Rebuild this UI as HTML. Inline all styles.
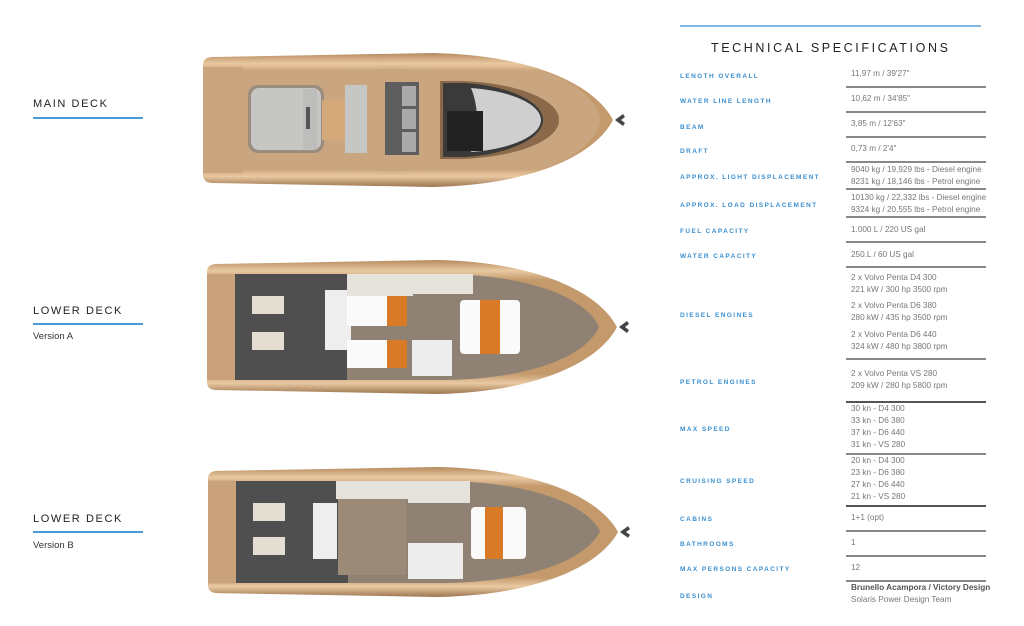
<!DOCTYPE html>
<html><head><meta charset="utf-8">
<style>
*{margin:0;padding:0;box-sizing:border-box}
body{width:1024px;height:626px;background:#fff;position:relative;overflow:hidden;font-family:"Liberation Sans",sans-serif}
.a{position:absolute;white-space:nowrap}
.dl{font-size:11px;letter-spacing:1.6px;color:#222}
.ul{height:1.5px;background:#4a9ad8;width:110px}
.ver{font-size:9.5px;color:#333}
.lb{font-size:6.5px;font-weight:bold;letter-spacing:1.4px;color:#3a8fd0;left:680px}
.v{font-size:8.2px;color:#777;left:851px;line-height:12px}
.sep{position:absolute;left:846px;width:140px;height:1.5px;background:#888}
</style></head><body>
<svg class="a" style="left:0;top:0" width="1024" height="626">
<defs>
<linearGradient id="hull" x1="0" y1="0" x2="0" y2="1">
<stop offset="0" stop-color="#b58a5e"/><stop offset="0.08" stop-color="#e9c9a2"/><stop offset="0.15" stop-color="#c49a6c"/>
<stop offset="0.85" stop-color="#c49a6c"/><stop offset="0.92" stop-color="#e9c9a2"/><stop offset="1" stop-color="#9c7550"/></linearGradient>
<g id="boat">
<path d="M0,12 Q0,4 10,4 L230,0 C330,2 392,32 410,67 C392,102 330,132 230,134 L10,130 Q0,130 0,122 Z" fill="url(#hull)"/>
<path d="M412,67 l8,-6 l2,3 l-4,3 l4,3 l-2,3 z" fill="#444"/>
<rect x="0" y="14" width="28" height="106" fill="#c9a27c"/>
</g>
</defs>
<!-- main deck -->
<g transform="translate(203,53)">
<use href="#boat"/>
<path d="M10,18 L190,16 L340,18 C375,30 395,50 398,67 C395,84 375,104 340,116 L190,118 L10,116 Z" fill="#caa680"/>
<rect x="0" y="14" width="40" height="106" fill="#c9a47f"/>
<rect x="45" y="32" width="76" height="68" rx="10" fill="#9b8d7e"/>
<rect x="48" y="35" width="70" height="62" rx="8" fill="#c6c6c4"/>
<rect x="100" y="36" width="14" height="60" fill="#bdbdbb"/><rect x="103" y="54" width="4" height="22" fill="#555"/>
<rect x="119" y="47" width="23" height="40" fill="#d4a97a"/>
<rect x="142" y="32" width="22" height="68" fill="#c6c6c4"/>
<rect x="182" y="29" width="34" height="73" fill="#5e5e5e"/>
<rect x="199" y="33" width="14" height="20" fill="#aaa"/><rect x="199" y="56" width="14" height="20" fill="#aaa"/><rect x="199" y="79" width="14" height="20" fill="#aaa"/>
<path d="M237,28 L260,28 C310,30 356,45 356,67 C356,89 310,104 260,106 L237,106 Z" fill="#8a6a4a"/>
<path d="M240,30 L262,30 C300,32 340,47 340,67 C340,87 300,102 262,104 L240,104 Z" fill="#3a3a3a"/>
<path d="M268,35 C310,38 338,52 338,67 C338,82 310,96 268,99 C276,80 276,54 268,35Z" fill="#cfcfcf"/>
<rect x="244" y="58" width="36" height="40" fill="#222"/>
</g>
<!-- lower A -->
<g transform="translate(207,260)">
<use href="#boat"/>
<path d="M28,14 L240,14 C330,16 380,40 392,67 C380,94 330,118 240,120 L28,120 Z" fill="#8f8275"/>
<rect x="28" y="14" width="112" height="106" fill="#4f4f50"/>
<rect x="45" y="36" width="32" height="18" fill="#e4ded2"/><rect x="45" y="72" width="32" height="18" fill="#e4ded2"/>
<rect x="118" y="30" width="26" height="60" fill="#eee"/>
<rect x="140" y="14" width="66" height="22" fill="#e6e2dc"/>
<rect x="140" y="36" width="60" height="30" fill="#fafafa"/><rect x="180" y="36" width="20" height="30" fill="#d97a26"/>
<rect x="140" y="80" width="60" height="28" fill="#fafafa"/><rect x="180" y="80" width="20" height="28" fill="#d97a26"/>
<rect x="206" y="14" width="60" height="20" fill="#e6e2dc"/>
<rect x="205" y="80" width="40" height="36" fill="#ededed"/>
<rect x="253" y="40" width="60" height="54" rx="4" fill="#fafafa"/><rect x="273" y="40" width="20" height="54" fill="#d97a26"/>
<rect x="0" y="14" width="28" height="106" fill="#c9a27c"/>
</g>
<!-- lower B -->
<g transform="translate(208,467)">
<use href="#boat" transform="scale(1,0.97)"/>
<path d="M28,14 L240,14 C330,16 380,40 392,64 C380,90 330,114 240,116 L28,116 Z" fill="#8f8275"/>
<rect x="28" y="14" width="112" height="102" fill="#4f4f50"/>
<rect x="45" y="36" width="32" height="18" fill="#e4ded2"/><rect x="45" y="70" width="32" height="18" fill="#e4ded2"/>
<rect x="105" y="36" width="24" height="56" fill="#eee"/>
<rect x="128" y="14" width="72" height="18" fill="#e6e2dc"/>
<rect x="130" y="32" width="68" height="76" fill="#9c8a78"/>
<rect x="200" y="14" width="62" height="22" fill="#e6e2dc"/>
<rect x="200" y="76" width="55" height="36" fill="#ededed"/>
<rect x="263" y="40" width="55" height="52" rx="4" fill="#fafafa"/><rect x="277" y="40" width="18" height="52" fill="#d97a26"/>
<rect x="0" y="14" width="28" height="98" fill="#c9a27c"/>
</g>
</svg>

<div class="a dl" style="left:33px;top:98px">MAIN DECK</div><div class="a ul" style="left:33px;top:117px"></div>
<div class="a dl" style="left:33px;top:305px">LOWER DECK</div><div class="a ul" style="left:33px;top:323px"></div>
<div class="a ver" style="left:33px;top:331px">Version A</div>
<div class="a dl" style="left:33px;top:513px">LOWER DECK</div><div class="a ul" style="left:33px;top:531px"></div>
<div class="a ver" style="left:33px;top:540px">Version B</div>

<div class="a" style="left:680px;top:25px;width:301px;height:2px;background:#7fb7e2"></div>
<div class="a" style="left:711px;top:41px;font-size:12.5px;letter-spacing:2.6px;color:#222">TECHNICAL SPECIFICATIONS</div>

<div class="a lb" style="top:73px">LENGTH OVERALL</div><div class="a v" style="top:68px">11,97 m / 39'27"</div><div class="sep" style="top:86px"></div>
<div class="a lb" style="top:98px">WATER LINE LENGTH</div><div class="a v" style="top:93px">10,62 m / 34'85"</div><div class="sep" style="top:111px"></div>
<div class="a lb" style="top:124px">BEAM</div><div class="a v" style="top:118px">3,85 m / 12'63"</div><div class="sep" style="top:136px"></div>
<div class="a lb" style="top:148px">DRAFT</div><div class="a v" style="top:143px">0,73 m / 2'4"</div><div class="sep" style="top:161px"></div>
<div class="a lb" style="top:174px">APPROX. LIGHT DISPLACEMENT</div><div class="a v" style="top:164px">9040 kg / 19,929 lbs - Diesel engine<br>8231 kg / 18,146 lbs - Petrol engine</div><div class="sep" style="top:188px"></div>
<div class="a lb" style="top:202px">APPROX. LOAD DISPLACEMENT</div><div class="a v" style="top:192px">10130 kg / 22,332 lbs - Diesel engine<br>9324 kg / 20,555 lbs - Petrol engine</div><div class="sep" style="top:216px"></div>
<div class="a lb" style="top:228px">FUEL CAPACITY</div><div class="a v" style="top:224px">1.000 L / 220 US gal</div><div class="sep" style="top:241px"></div>
<div class="a lb" style="top:253px">WATER CAPACITY</div><div class="a v" style="top:249px">250.L / 60 US gal</div><div class="sep" style="top:266px"></div>
<div class="a lb" style="top:312px">DIESEL ENGINES</div><div class="a v" style="top:272px">2 x Volvo Penta D4 300<br>221 kW / 300 hp 3500 rpm</div>
<div class="a v" style="top:300px">2 x Volvo Penta D6 380<br>280 kW / 435 hp 3500 rpm</div>
<div class="a v" style="top:329px">2 x Volvo Penta D6 440<br>324 kW / 480 hp 3800 rpm</div><div class="sep" style="top:358px"></div>
<div class="a lb" style="top:379px">PETROL ENGINES</div><div class="a v" style="top:368px">2 x Volvo Penta VS 280<br>209 kW / 280 hp 5800 rpm</div><div class="sep" style="top:401px;background:#555"></div>
<div class="a lb" style="top:426px">MAX SPEED</div><div class="a v" style="top:403px">30 kn - D4 300<br>33 kn - D6 380<br>37 kn - D6 440<br>31 kn - VS 280</div><div class="sep" style="top:453px"></div>
<div class="a lb" style="top:478px">CRUISING SPEED</div><div class="a v" style="top:455px">20 kn - D4 300<br>23 kn - D6 380<br>27 kn - D6 440<br>21 kn - VS 280</div><div class="sep" style="top:505px;background:#555"></div>
<div class="a lb" style="top:516px">CABINS</div><div class="a v" style="top:512px">1+1 (opt)</div><div class="sep" style="top:530px"></div>
<div class="a lb" style="top:541px">BATHROOMS</div><div class="a v" style="top:537px">1</div><div class="sep" style="top:555px"></div>
<div class="a lb" style="top:566px">MAX PERSONS CAPACITY</div><div class="a v" style="top:562px">12</div><div class="sep" style="top:580px"></div>
<div class="a lb" style="top:593px">DESIGN</div><div class="a v" style="top:582px"><b style="color:#555">Brunello Acampora / Victory Design</b><br>Solaris Power Design Team</div>
</body></html>
